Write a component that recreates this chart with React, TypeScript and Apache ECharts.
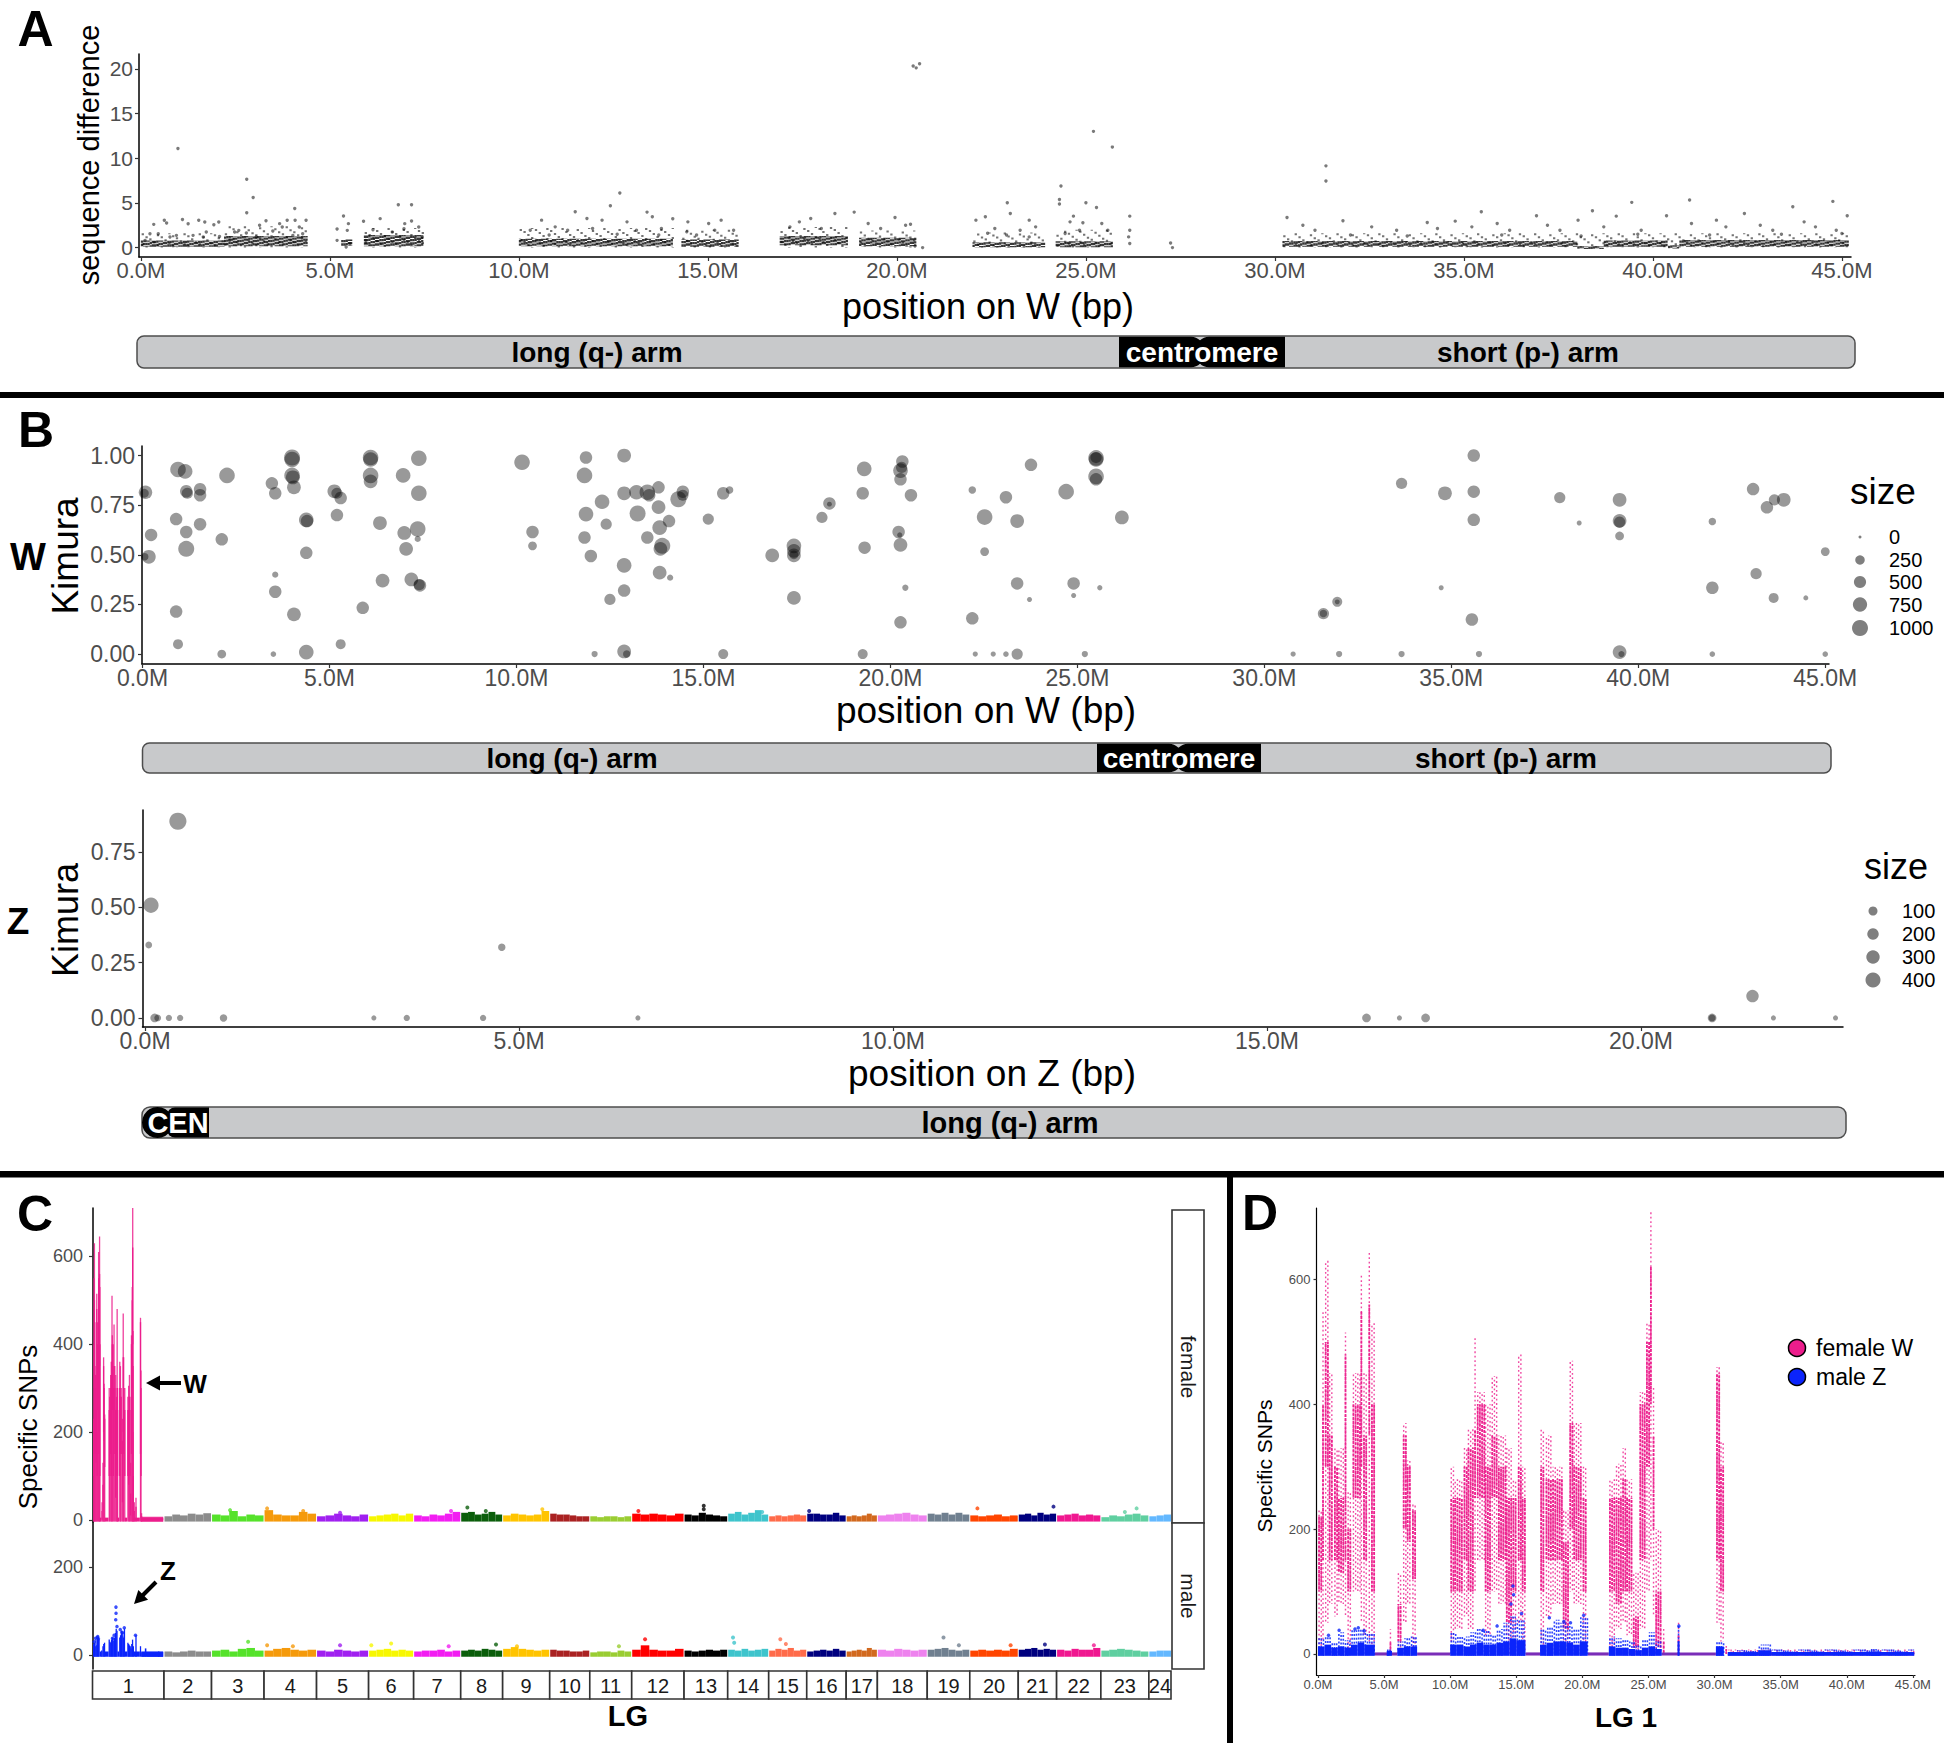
import React, { useEffect, useRef } from "react";
import * as echarts from "echarts";

const FONT = '"Liberation Sans", Arial, Helvetica, sans-serif';
const PINK = "#EC1D8C";
const BLUE = "#0B24FB";
const PURPLE = "#7A2DB8";

// ---------------- Panel A : sequence difference along W ----------------
const aTicksX = [0, 5, 10, 15, 20, 25, 30, 35, 40, 45];
const aTicksY = [0, 5, 10, 15, 20];
// dense core of the point cloud: [start Mb, end Mb, low, high]
const aCore = [
  [0.0, 2.2, 0.1, 0.8], [2.2, 4.4, 0.15, 1.3], [5.3, 5.6, 0.2, 0.9], [5.9, 7.5, 0.15, 1.4],
  [10.0, 14.1, 0.15, 1.0], [14.3, 15.8, 0.1, 0.9], [16.9, 18.7, 0.25, 1.3], [19.0, 20.5, 0.15, 1.1],
  [22.0, 23.9, 0.05, 0.6], [24.2, 25.7, 0.05, 0.7], [30.2, 38.0, 0.1, 0.75], [38.0, 38.7, -0.15, 0.15],
  [38.7, 40.4, 0.1, 0.8], [40.4, 40.7, -0.1, 0.25], [40.7, 45.2, 0.1, 0.85],
];
// sparse scatter around the core: [start Mb, end Mb, low, high]
const aHalo = [
  [0.0, 2.2, 0.0, 1.6], [2.2, 4.4, 0.0, 2.4], [5.9, 7.5, 0.0, 2.2], [10.0, 14.1, 0.0, 2.2],
  [14.3, 15.8, 0.0, 2.0], [16.9, 18.7, 0.0, 2.3], [19.0, 20.5, 0.0, 1.9], [22.0, 23.9, 0.0, 1.7],
  [24.2, 25.7, 0.0, 2.0], [30.2, 45.2, 0.0, 1.6],
];
const aPoints = [
  [0.98, 11.08], [2.8, 7.65], [2.97, 5.6], [2.8, 3.9], [4.07, 4.37], [6.81, 4.8], [7.16, 4.8], [5.36, 3.54],
  [0.34, 2.6], [0.62, 3.05], [0.68, 2.75], [1.1, 3.14], [1.25, 2.67], [1.53, 3.05], [1.69, 2.86], [1.93, 2.56],
  [2.06, 2.86], [2.48, 1.74], [2.59, 1.93], [2.79, 1.63], [3.31, 3.01], [3.49, 1.86], [3.67, 2.68], [3.74, 2.3],
  [3.87, 3.05], [4.08, 3.05], [4.37, 3.05], [4.19, 2.3], [3.14, 2.49], [5.19, 2.08], [5.19, 0.81], [5.49, 2.68],
  [5.46, 1.93], [5.53, 0.43], [5.43, 0.06], [5.89, 2.94], [6.33, 3.24], [6.14, 2.0], [6.98, 2.68], [7.16, 2.98],
  [7.35, 2.3], [6.96, 2.1], [0.11, 0.81], [0.24, 1.55], [0.46, 1.55], [0.77, 1.18], [0.94, 1.37], [1.38, 1.37],
  [1.73, 1.74], [1.65, 1.18], [2.08, 1.25], [2.35, 0.81], [3.05, 1.18], [4.02, 1.37], [4.28, 1.55], [5.95, 0.81],
  [6.65, 1.74], [7.44, 1.18],
  [12.67, 6.1], [12.42, 4.68], [11.49, 4.0], [13.39, 3.97], [14.07, 3.22], [10.6, 3.07], [11.8, 3.26], [12.2, 3.07],
  [12.86, 2.88], [13.53, 3.45], [14.47, 2.88], [15.02, 2.7], [15.35, 3.07], [15.68, 1.95], [10.3, 1.95], [10.96, 2.32],
  [11.29, 1.95], [11.95, 2.13], [13.11, 1.95], [13.77, 2.13], [14.44, 1.76], [15.18, 1.95], [10.8, 1.4], [12.6, 1.5],
  [13.7, 1.4], [14.7, 1.4],
  [18.36, 3.82], [18.87, 3.97], [19.95, 3.37], [17.72, 3.26], [17.42, 2.88], [17.17, 2.32], [18.0, 2.13], [19.24, 2.7],
  [19.57, 2.13], [20.23, 2.5], [20.36, 2.62], [20.68, 0], [20.48, 0.19], [20.43, 20.3], [20.6, 20.56], [20.51, 20.1],
  [22.92, 5.02], [23.0, 3.82], [22.34, 3.45], [22.09, 3.07], [23.5, 3.07], [22.59, 2.13], [23.26, 1.95], [23.67, 2.32],
  [22.4, 1.6], [22.9, 1.4], [23.5, 1.2],
  [25.2, 13.0], [25.7, 11.24], [24.34, 6.89], [24.3, 5.39], [24.3, 4.87], [25.0, 5.02], [25.28, 4.49], [24.67, 3.52],
  [24.58, 2.88], [24.92, 2.77], [25.42, 2.7], [24.83, 1.95], [25.58, 1.95], [24.45, 1.57],
  [26.16, 3.52], [26.16, 1.95], [26.13, 1.2], [26.16, 0.45], [27.24, 0.52], [27.29, 0],
  [31.35, 9.14], [31.35, 7.45], [30.32, 3.37], [31.8, 3.0], [35.46, 4.0], [39.44, 5.06], [40.97, 5.32], [44.76, 5.17],
  [43.7, 4.57], [42.42, 3.82], [38.4, 4.12], [36.92, 3.56], [39.03, 3.52], [40.36, 3.56], [45.14, 3.56], [38.02, 3.07],
  [34.03, 2.81], [34.77, 2.96], [30.74, 2.51], [31.06, 1.95], [32.56, 2.32], [33.22, 1.95], [34.3, 2.13], [35.21, 2.32],
  [35.88, 2.7], [36.21, 1.95], [37.21, 2.51], [37.54, 1.95], [38.7, 2.32], [39.69, 1.95], [41.02, 2.7], [41.68, 3.07],
  [41.93, 2.32], [42.84, 2.51], [43.17, 1.95], [44.0, 2.88], [44.3, 2.32], [44.85, 1.95], [45.0, 1.57], [32.0, 1.4],
  [33.5, 1.3], [36.0, 1.4], [38.1, 1.3], [39.6, 1.5], [41.5, 1.4], [43.4, 1.5],
];

// ---------------- Panel B : Kimura distances ----------------
const kTicksY = [0, 0.25, 0.5, 0.75, 1];
// [position Mb, Kimura, size]
const wKimura = [
  [0.08, 0.815, 650], [0.05, 0.81, 200], [0.23, 0.6, 534], [0.17, 0.49, 684], [0.06, 0.49, 120],
  [0.95, 0.93, 940], [1.14, 0.92, 800], [1.17, 0.82, 534], [1.2, 0.81, 400], [1.54, 0.83, 534],
  [1.54, 0.8, 534], [0.9, 0.68, 534], [1.17, 0.615, 534], [1.17, 0.53, 1000], [1.54, 0.654, 534],
  [2.26, 0.9, 940], [2.12, 0.578, 534], [0.9, 0.214, 534], [0.95, 0.05, 290], [2.12, 0.0, 196],
  [3.46, 0.86, 534], [3.55, 0.81, 534], [4.0, 0.99, 1000], [4.0, 0.98, 900], [4.0, 0.9, 940],
  [4.02, 0.89, 700], [4.05, 0.84, 684], [4.38, 0.676, 800], [4.4, 0.67, 534], [4.38, 0.51, 534],
  [3.55, 0.4, 62], [3.55, 0.314, 534], [4.05, 0.2, 684], [3.5, 0.0, 40], [4.38, 0.01, 800],
  [5.13, 0.82, 684], [5.2, 0.81, 400], [5.3, 0.786, 534], [5.2, 0.7, 534], [5.3, 0.05, 290],
  [5.89, 0.233, 534], [6.1, 0.99, 940], [6.1, 0.98, 800], [6.1, 0.9, 940], [6.1, 0.87, 684],
  [6.35, 0.66, 684], [6.42, 0.37, 684], [6.97, 0.9, 800], [7.39, 0.986, 940], [7.39, 0.81, 940],
  [7.36, 0.63, 940], [7.0, 0.61, 684], [7.05, 0.53, 684], [7.36, 0.58, 62], [7.19, 0.376, 684],
  [7.42, 0.346, 534], [7.4, 0.35, 400], [10.15, 0.966, 940], [10.43, 0.615, 534], [10.43, 0.545, 196],
  [11.86, 0.99, 534], [11.82, 0.9, 940], [11.86, 0.705, 800], [11.82, 0.587, 534], [11.99, 0.494, 534],
  [12.09, 0.0, 62], [12.88, 1.0, 684], [12.29, 0.767, 800], [12.4, 0.654, 400], [12.5, 0.275, 400],
  [12.88, 0.447, 800], [12.88, 0.32, 534], [12.88, 0.81, 684], [12.88, 0.013, 684], [12.95, 0.0, 120],
  [13.21, 0.815, 800], [13.24, 0.708, 1000], [13.5, 0.815, 940], [13.55, 0.8, 534], [13.5, 0.587, 534],
  [13.8, 0.84, 534], [13.8, 0.74, 684], [13.83, 0.637, 800], [13.9, 0.545, 1000], [13.85, 0.53, 684],
  [13.83, 0.41, 684], [14.08, 0.67, 534], [14.11, 0.385, 62], [14.33, 0.78, 1000], [14.45, 0.8, 400],
  [14.45, 0.818, 534], [15.13, 0.68, 400], [15.53, 0.81, 534], [15.7, 0.826, 120], [15.53, 0.0, 290],
  [16.84, 0.497, 684], [17.42, 0.545, 800], [17.42, 0.52, 684], [17.42, 0.5, 200], [17.42, 0.497, 684],
  [17.42, 0.283, 684], [18.17, 0.688, 400], [18.37, 0.759, 534], [18.37, 0.755, 20], [19.3, 0.933, 800],
  [19.26, 0.81, 534], [19.31, 0.536, 534], [19.26, 0.0, 290], [20.27, 0.924, 800], [20.3, 0.94, 400],
  [20.32, 0.97, 534], [20.27, 0.88, 534], [20.55, 0.8, 534], [20.22, 0.615, 534], [20.27, 0.55, 684],
  [20.25, 0.6, 30], [20.4, 0.334, 62], [20.27, 0.16, 534], [22.19, 0.826, 120], [22.19, 0.18, 534],
  [22.27, 0.0, 30], [22.52, 0.69, 940], [22.52, 0.516, 196], [22.75, 0.0, 30], [23.09, 0.0, 40],
  [23.39, 0.0, 400], [23.09, 0.79, 534], [23.39, 0.67, 684], [23.39, 0.356, 534], [23.72, 0.275, 24],
  [23.76, 0.953, 534], [24.7, 0.818, 940], [24.9, 0.356, 534], [24.9, 0.295, 24], [25.2, 0.0, 62],
  [25.5, 0.988, 940], [25.5, 0.98, 800], [25.5, 0.99, 400], [25.5, 0.895, 940], [25.5, 0.88, 534],
  [25.6, 0.334, 30], [26.19, 0.688, 684], [30.77, 0.0, 30], [31.58, 0.204, 400], [31.58, 0.204, 120],
  [31.95, 0.263, 290], [31.95, 0.263, 20], [32.0, 0.0, 62], [33.67, 0.86, 400], [33.67, 0.0, 62],
  [34.73, 0.334, 24], [34.83, 0.81, 684], [35.6, 1.0, 534], [35.6, 0.818, 534], [35.6, 0.676, 534],
  [35.55, 0.174, 534], [35.74, 0.0, 62], [37.9, 0.788, 400], [38.42, 0.66, 24], [39.5, 0.777, 684],
  [39.5, 0.671, 684], [39.5, 0.665, 400], [39.5, 0.595, 196], [39.5, 0.01, 684], [39.55, 0.0, 60],
  [41.98, 0.668, 120], [41.98, 0.334, 534], [41.98, 0.0, 40], [43.07, 0.831, 534], [43.44, 0.739, 534],
  [43.64, 0.777, 400], [43.89, 0.777, 684], [43.15, 0.405, 400], [43.62, 0.283, 290], [44.48, 0.283, 24],
  [45.0, 0.516, 196], [45.0, 0.0, 40],
];
const zTicksX = [0, 5, 10, 15, 20];
const zTicksY = [0, 0.25, 0.5, 0.75];
const zKimura = [
  [0.44, 0.89, 560], [0.08, 0.51, 420], [0.05, 0.33, 40], [0.13, 0.0, 90], [0.17, 0.0, 40],
  [0.32, 0.0, 30], [0.47, 0.0, 30], [1.05, 0.0, 55], [3.06, 0.0, 12], [3.5, 0.0, 30],
  [4.52, 0.0, 30], [4.77, 0.32, 55], [6.59, 0.0, 12], [16.33, 0.0, 90], [16.77, 0.0, 12],
  [17.12, 0.0, 90], [20.95, 0.0, 90], [20.95, 0.0, 40], [21.49, 0.099, 250], [21.77, 0.0, 12],
  [22.6, 0.0, 12],
];
const wLegend = [0, 250, 500, 750, 1000];
const zLegend = [100, 200, 300, 400];

// ---------------- Panel C : specific SNPs per linkage group ----------------
const lgNames = ["1", "2", "3", "4", "5", "6", "7", "8", "9", "10", "11", "12", "13", "14", "15", "16", "17", "18", "19", "20", "21", "22", "23", "24"];
const lgLengths = [45.3, 29.9, 33.1, 33.1, 32.8, 28.3, 29.6, 26.3, 29.6, 25.1, 26.3, 33.0, 27.4, 25.7, 23.8, 24.7, 19.4, 31.4, 26.7, 30.5, 24.0, 27.8, 30.2, 13.9];
const lgColors = [PINK, "#8C8C8C", "#55E22A", "#F59A0B", "#A020F0", "#F7F700", "#F21DF2", "#0B5E0B", "#FFC400", "#AA2222", "#9ACD32", "#FF0000", "#000000", "#3EC4CC", "#FF6B4A", "#00007F", "#D2691E", "#EE82EE", "#708090", "#FF4500", "#00007F", "#F01890", "#5FCFA0", "#63B8FF"];
const lgGap = 0.64;
const femaleBands = [
  [], [8, 12, 10, 14, 12, 15], [12, 10, 20, 8, 12, 10], [22, 12, 10, 10, 18, 14], [8, 10, 14, 10, 8, 12],
  [8, 10, 12, 14, 10, 14], [10, 8, 12, 10, 14, 18], [16, 18, 12, 14, 18, 12], [10, 14, 12, 10, 12, 20],
  [14, 12, 12, 10, 8, 8], [8, 6, 8, 8, 6, 8], [14, 12, 14, 12, 10, 14], [12, 10, 16, 12, 10, 8],
  [14, 18, 12, 16, 22, 12], [8, 10, 8, 10, 12, 10], [14, 14, 12, 12, 16, 10], [8, 10, 8, 10, 14, 10],
  [10, 12, 14, 16, 12, 10], [14, 12, 16, 12, 16, 12], [10, 8, 10, 12, 8, 10], [12, 14, 10, 16, 12, 14],
  [10, 12, 14, 10, 12, 10], [6, 10, 8, 12, 14, 10], [8, 10, 12],
];
const maleBands = [
  [], [8, 6, 8, 10, 8, 8], [10, 12, 8, 14, 16, 10], [10, 14, 16, 12, 10, 12], [10, 8, 12, 10, 8, 10],
  [10, 12, 14, 10, 12, 10], [8, 10, 10, 12, 8, 10], [10, 12, 10, 14, 12, 10], [14, 18, 14, 12, 10, 12],
  [12, 10, 10, 8, 8, 10], [6, 8, 8, 6, 10, 8], [12, 22, 12, 10, 10, 14], [10, 8, 10, 12, 10, 12],
  [12, 10, 14, 10, 12, 14], [10, 14, 12, 16, 10, 12], [8, 10, 12, 10, 14, 10], [8, 10, 12, 10, 16, 12],
  [12, 10, 14, 12, 10, 12], [12, 14, 16, 12, 10, 12], [10, 12, 10, 12, 10, 14], [12, 14, 16, 12, 14, 12],
  [12, 10, 14, 12, 12, 16], [10, 12, 14, 12, 10, 8], [8, 10, 10],
];
// [LG, relative position in LG, SNPs]
const femaleSpikes = [
  [3, 0.35, 22], [4, 0.05, 26], [4, 0.75, 20], [5, 0.45, 16], [7, 0.8, 20], [8, 0.15, 28], [8, 0.6, 20],
  [9, 0.85, 24], [12, 0.12, 20], [13, 0.45, 32], [13, 0.45, 24], [14, 0.85, 18], [16, 0.05, 20],
  [20, 0.15, 26], [21, 0.93, 30], [23, 0.75, 26], [23, 0.5, 18],
];
const maleSpikes = [
  [3, 0.7, 30], [4, 0.05, 22], [4, 0.55, 20], [5, 0.45, 22], [6, 0.05, 22], [6, 0.5, 26], [7, 0.75, 20],
  [8, 0.85, 24], [9, 0.3, 20], [11, 0.7, 20], [12, 0.25, 36], [14, 0.12, 40], [14, 0.15, 28], [15, 0.3, 36],
  [15, 0.45, 25], [19, 0.38, 40], [19, 0.75, 22], [20, 0.85, 22], [21, 0.7, 24], [22, 0.85, 22],
];
const cTicksFemale = [0, 200, 400, 600];
const cTicksMale = [0, 200];

// ---------------- Panel D : LG 1 ----------------
const dTicksY = [0, 200, 400, 600];
// female W clouds: [start Mb, end Mb, low, high, dense low, dense high]
const femaleW = [
  [0.0, 0.3, 0, 230, 100, 220], [0.3, 0.5, 20, 550, 150, 400], [0.5, 0.8, 50, 630, 300, 500],
  [0.8, 1.2, 80, 450, 150, 350], [1.2, 1.5, 60, 330, 150, 300], [1.5, 2.0, 80, 330, 130, 250],
  [2.0, 2.2, 60, 515, 150, 480], [2.2, 2.6, 0, 260, 100, 200], [2.6, 3.2, 100, 450, 250, 400],
  [3.2, 3.4, 50, 610, 300, 550], [3.4, 3.8, 30, 450, 150, 350], [3.8, 4.0, 20, 645, 350, 560],
  [4.0, 4.3, 0, 530, 100, 400], [5.4, 5.6, 0, 40, 0, 20], [6.0, 6.4, 0, 130, 20, 80],
  [6.4, 6.7, 50, 370, 200, 350], [6.7, 7.1, 80, 310, 180, 300], [7.1, 7.5, 0, 240, 120, 230],
  [10.0, 10.3, 20, 300, 100, 250], [10.3, 11.0, 40, 280, 100, 250], [11.0, 11.3, 60, 330, 150, 300],
  [11.3, 11.8, 40, 360, 100, 330], [11.8, 12.0, 100, 510, 250, 360], [12.0, 12.6, 150, 420, 250, 400],
  [12.6, 13.1, 30, 400, 100, 300], [13.1, 13.6, 100, 445, 250, 350], [13.6, 14.2, 80, 350, 150, 300],
  [14.2, 14.7, 0, 330, 50, 250], [14.7, 15.1, 0, 280, 100, 250], [15.1, 15.4, 50, 480, 150, 300],
  [15.4, 15.7, 0, 300, 100, 250], [16.8, 17.2, 0, 360, 100, 300], [17.2, 17.7, 60, 350, 150, 280],
  [17.7, 18.5, 80, 300, 150, 280], [18.5, 19.0, 0, 230, 40, 180], [19.0, 19.3, 100, 470, 200, 370],
  [19.3, 20.0, 80, 370, 150, 300], [20.0, 20.4, 0, 300, 100, 250], [22.0, 22.5, 0, 280, 100, 250],
  [22.5, 23.0, 40, 305, 80, 250], [23.0, 23.3, 50, 330, 100, 280], [23.3, 23.8, 30, 280, 100, 250],
  [23.8, 24.3, 0, 130, 10, 60], [24.3, 24.8, 40, 420, 150, 400], [24.8, 25.1, 100, 530, 300, 500],
  [25.1, 25.3, 150, 710, 400, 620], [25.3, 25.5, 60, 430, 200, 350], [25.5, 26.0, 0, 200, 10, 100],
  [26.1, 26.2, 0, 40, 0, 20], [27.2, 27.35, 0, 50, 0, 30], [30.1, 30.4, 50, 460, 150, 450],
  [30.4, 30.8, 20, 340, 100, 300], [30.8, 31.0, 0, 15, 0, 8], [31.0, 45.1, 0, 7, 0, 3],
];
// male Z clouds: [start Mb, end Mb, high, dense high]
const maleZ = [
  [0.0, 0.5, 25, 12], [0.5, 1.0, 28, 15], [1.0, 1.5, 20, 10], [1.5, 2.0, 35, 12], [2.0, 2.5, 22, 10],
  [2.5, 3.0, 38, 15], [3.0, 3.5, 40, 18], [3.5, 4.3, 35, 15], [5.2, 5.6, 10, 5], [6.0, 6.5, 20, 10],
  [6.5, 7.0, 25, 12], [7.0, 7.5, 28, 12], [10.0, 10.5, 35, 15], [10.5, 11.0, 30, 15], [11.0, 11.5, 28, 12],
  [11.5, 12.0, 35, 15], [12.0, 12.5, 40, 18], [12.5, 13.0, 38, 15], [13.0, 13.5, 32, 15], [13.5, 14.0, 40, 18],
  [14.0, 14.5, 50, 20], [14.5, 15.0, 60, 25], [15.0, 15.7, 55, 22], [16.8, 17.3, 40, 15], [17.3, 17.8, 45, 18],
  [17.8, 18.3, 55, 20], [18.3, 18.8, 50, 20], [18.8, 19.3, 45, 18], [19.3, 19.8, 40, 15], [19.8, 20.4, 60, 20],
  [22.0, 22.5, 28, 12], [22.5, 23.0, 25, 10], [23.0, 23.5, 22, 10], [23.5, 24.0, 20, 8], [24.0, 24.5, 15, 6],
  [24.5, 25.0, 25, 10], [25.0, 25.5, 35, 12], [25.5, 26.0, 20, 8], [27.2, 27.35, 45, 20], [30.1, 30.7, 20, 12],
  [31.0, 33.3, 6, 3], [33.3, 34.3, 15, 6], [34.3, 45.1, 7, 3], [41.8, 42.5, 8, 4],
];
const maleZDots = [
  [14.75, 109], [14.8, 95], [14.6, 80], [15.4, 65], [17.5, 58], [20.1, 62], [2.8, 40], [3.05, 42],
  [3.5, 37], [1.6, 38], [0.8, 30], [12.5, 38], [13.55, 45], [18.6, 52], [27.3, 45], [19.1, 50],
];
const zeroRuns = [[4.3, 5.4], [5.6, 6.0], [7.5, 10.0], [15.7, 16.8], [20.4, 22.0], [26.0, 30.1], [31.0, 45.1]];

// ---------------- helpers ----------------
const mFmt = (v: number) => v.toFixed(1) + "M";
const kFmt = (v: number) => v.toFixed(2);
const iFmt = (v: number) => String(Math.round(v));
const wSizePx = (v: number) => 3 + 13 * Math.sqrt(Math.max(v, 0) / 1000);
const zSizePx = (v: number) => 3 + 12 * Math.sqrt(Math.max(v, 0) / 400);

const lgStart: number[] = [];
let accLen = 0;
for (let i = 0; i < lgLengths.length; i++) {
  lgStart.push(accLen);
  accLen += lgLengths[i] + lgGap;
}
const cTotal = accLen - lgGap;

function axis(gridIndex: number, min: number, max: number, ticks: number[] | null, fmt: any, o: any) {
  if (!ticks) return { type: "value", gridIndex, min, max, show: false };
  return {
    type: "value", gridIndex, min, max,
    axisLine: { show: true, onZero: false, lineStyle: { color: "#000", width: o.lw || 1.5 } },
    axisTick: { show: true, customValues: ticks, length: o.tl || 4, lineStyle: { color: "#333", width: 1.2 } },
    axisLabel: { show: true, customValues: ticks, formatter: fmt, color: "#4d4d4d", fontSize: o.fs, fontFamily: FONT, margin: o.margin },
    splitLine: { show: false },
  };
}

// filled range [start,end] x [lo,hi]; optionally drawn as a texture of dashed vertical strokes
function rectRender(color: string, lo: any, hi: any, step = 0, lw = 1, dash: number[] | null = null, minW = 0.7) {
  return (params: any, api: any) => {
    const s = api.value(0), e = api.value(1);
    const vLo = typeof lo === "number" ? api.value(lo) : lo.c;
    const vHi = typeof hi === "number" ? api.value(hi) : hi.c;
    const a = api.coord([s, vHi]);
    const b = api.coord([e, vLo]);
    const x0 = a[0], x1 = b[0], yt = a[1];
    const w = x1 - x0, h = Math.max(b[1] - yt, 0.8);
    if (!step || w < step * 1.2) {
      if (dash && step) {
        return { type: "line", shape: { x1: x0 + w / 2, y1: yt, x2: x0 + w / 2, y2: yt + h }, style: { stroke: color, lineWidth: lw, lineDash: dash } };
      }
      return { type: "rect", shape: { x: x0, y: yt, width: Math.max(w, minW), height: h }, style: { fill: color } };
    }
    const children: any[] = [];
    let k = 0;
    const period = dash ? dash[0] + dash[1] : 1;
    for (let x = x0 + step / 2; x < x1; x += step, k++) {
      const st: any = { stroke: color, lineWidth: lw };
      if (dash) {
        st.lineDash = dash;
        st.lineDashOffset = ((k * 7.3 + params.dataIndex * 3.1) % period);
      }
      children.push({ type: "line", shape: { x1: x, y1: yt, x2: x, y2: yt + h }, style: st });
    }
    return { type: "group", children };
  };
}

function bandRender(params: any, api: any) {
  const a = api.coord([api.value(0), api.value(3)]);
  const b = api.coord([api.value(1), api.value(2)]);
  return { type: "rect", shape: { x: a[0], y: a[1], width: Math.max(b[0] - a[0], 0.7), height: Math.max(b[1] - a[1], 1) }, style: { fill: lgColors[api.value(4)] } };
}

function bandData(bands: number[][]) {
  const out: number[][] = [];
  bands.forEach((hs, i) => {
    const n = hs.length;
    if (!n) return;
    const st = lgLengths[i] / n;
    hs.forEach((h, j) => out.push([lgStart[i] + j * st, lgStart[i] + (j + 1) * st, -4, h, i]));
  });
  return out;
}

function spikeData(sp: number[][]) {
  return sp.map(([lg, rel, v]) => ({ value: [lgStart[lg - 1] + rel * lgLengths[lg - 1], v], itemStyle: { color: lgColors[lg - 1] } }));
}

function custom(xi: number, data: any[], renderItem: any) {
  return { type: "custom", coordinateSystem: "cartesian2d", xAxisIndex: xi, yAxisIndex: xi, data, renderItem, silent: true, clip: true };
}

function buildOption() {
  return {
    animation: false,
    backgroundColor: "#ffffff",
    grid: [
      { left: 139, top: 54, width: 1712, height: 203 },
      { left: 142, top: 446, width: 1687, height: 218 },
      { left: 142.5, top: 810, width: 1700.5, height: 217 },
      { left: 93, top: 1208, width: 1078, height: 314 },
      { left: 93, top: 1522, width: 1078, height: 147 },
      { left: 1316.5, top: 1208, width: 598.5, height: 467 },
    ],
    xAxis: [
      axis(0, -0.05, 45.24, aTicksX, mFmt, { fs: 22, margin: 2 }),
      axis(1, -0.013, 45.1, aTicksX, mFmt, { fs: 23, margin: 2 }),
      axis(2, -0.033, 22.7, zTicksX, mFmt, { fs: 23, margin: 2 }),
      axis(3, 0, cTotal, null, null, {}),
      axis(4, 0, cTotal, null, null, {}),
      axis(5, -0.11, 45.16, aTicksX, mFmt, { fs: 13, margin: 3, tl: 3, lw: 1.2 }),
    ],
    yAxis: [
      axis(0, -1.05, 21.65, aTicksY, iFmt, { fs: 21, margin: 6 }),
      axis(1, -0.05, 1.048, kTicksY, kFmt, { fs: 23, margin: 7 }),
      axis(2, -0.041, 0.941, zTicksY, kFmt, { fs: 23, margin: 7 }),
      axis(3, -5, 710, cTicksFemale, iFmt, { fs: 18, margin: 10, lw: 1.5 }),
      axis(4, -31.9, 302.8, cTicksMale, iFmt, { fs: 18, margin: 10, lw: 1.5 }),
      axis(5, -33.7, 714.7, dTicksY, iFmt, { fs: 13, margin: 6, tl: 3, lw: 1.2 }),
    ],
    series: [
      // A
      custom(0, aHalo, rectRender("rgba(0,0,0,0.55)", 2, 3, 3.8, 2.3, [2, 8])),
      custom(0, aCore, rectRender("rgba(0,0,0,0.78)", 2, 3, 2.2, 2.3, [2.4, 1.0])),
      { type: "scatter", xAxisIndex: 0, yAxisIndex: 0, data: aPoints, symbolSize: 3.4, itemStyle: { color: "rgba(0,0,0,0.65)" }, silent: true },
      // B - W
      { type: "scatter", xAxisIndex: 1, yAxisIndex: 1, data: wKimura, symbolSize: (v: number[]) => wSizePx(v[2]), itemStyle: { color: "rgba(0,0,0,0.5)" }, silent: true },
      // B - Z
      { type: "scatter", xAxisIndex: 2, yAxisIndex: 2, data: zKimura, symbolSize: (v: number[]) => zSizePx(v[2]), itemStyle: { color: "rgba(0,0,0,0.5)" }, silent: true },
      // C - female
      custom(3, zeroRuns, rectRender(PINK, { c: -4 }, { c: 5 })),
      custom(3, femaleW, rectRender("rgba(236,29,140,0.85)", { c: -4 }, 3, 0, 1, null, 1.3)),
      custom(3, femaleW, rectRender(PINK, 4, 5, 0, 1, null, 1.3)),
      custom(3, bandData(femaleBands), bandRender),
      { type: "scatter", xAxisIndex: 3, yAxisIndex: 3, data: spikeData(femaleSpikes), symbolSize: 4, silent: true },
      // C - male
      custom(4, zeroRuns, rectRender(BLUE, { c: -4 }, { c: 8 })),
      custom(4, maleZ, rectRender(BLUE, { c: -4 }, 2, 0, 1, null, 1.3)),
      { type: "scatter", xAxisIndex: 4, yAxisIndex: 4, data: maleZDots, symbolSize: 3.5, itemStyle: { color: BLUE }, silent: true },
      custom(4, bandData(maleBands), bandRender),
      { type: "scatter", xAxisIndex: 4, yAxisIndex: 4, data: spikeData(maleSpikes), symbolSize: 4, silent: true },
      // D
      custom(5, femaleW, rectRender("rgba(236,29,140,0.8)", 2, 3, 2.2, 1.4, [1.8, 2.6])),
      custom(5, femaleW, rectRender("rgba(236,29,140,0.95)", 4, 5, 2.2, 1.8, [3, 1.1])),
      custom(5, zeroRuns, rectRender(PURPLE, { c: -2.5 }, { c: 2.5 })),
      custom(5, maleZ, rectRender("rgba(11,36,251,0.85)", { c: -3 }, 2, 2.2, 1.6, [2, 1.8])),
      custom(5, maleZ, rectRender(BLUE, { c: -3 }, 3)),
      { type: "scatter", xAxisIndex: 5, yAxisIndex: 5, data: maleZDots, symbolSize: 3.5, itemStyle: { color: BLUE }, silent: true },
    ],
  };
}

function T(x: number, y: number, text: string, size: number, o: any = {}) {
  const align = o.align || "center";
  const va = o.va || "middle";
  return {
    type: "text", x, y, rotation: o.rot || 0, silent: true, z: 100,
    style: { text, font: `${o.bold ? "bold " : ""}${size}px ${FONT}`, fill: o.fill || "#000", align, verticalAlign: va, textAlign: align, textVerticalAlign: va },
  };
}
const R = (x: number, y: number, w: number, h: number, fill: string, o: any = {}) => ({
  type: "rect", silent: true, z: o.z || 50, shape: { x, y, width: w, height: h, r: o.r || 0 },
  style: { fill, stroke: o.stroke || null, lineWidth: o.lw || 0 },
});

function buildGraphics(chart: any) {
  const g: any[] = [];
  // separators
  g.push(R(0, 392, 1944, 6, "#000"));
  g.push(R(0, 1171, 1944, 6.5, "#000"));
  g.push(R(1227, 1174, 6, 569, "#000"));
  // panel letters
  g.push(T(35.5, 29, "A", 50, { bold: true }));
  g.push(T(36, 430, "B", 50, { bold: true }));
  g.push(T(35, 1214, "C", 50, { bold: true }));
  g.push(T(1260, 1213, "D", 50, { bold: true }));
  // Panel A titles
  g.push(T(89, 155, "sequence difference", 29, { rot: Math.PI / 2 }));
  g.push(T(988, 306, "position on W (bp)", 36));
  // chromosome bar A
  g.push(R(137, 336, 1718, 32, "#C8C9CB", { r: 7, stroke: "#4D4D4D", lw: 1.5 }));
  g.push(R(1119, 336.8, 85, 30.4, "#000", { r: [0, 13, 13, 0], z: 51 }));
  g.push(R(1196, 336.8, 89, 30.4, "#000", { r: [13, 0, 0, 13], z: 51 }));
  g.push(T(597, 352, "long (q-) arm", 28, { bold: true }));
  g.push(T(1202, 352, "centromere", 28, { bold: true, fill: "#fff" }));
  g.push(T(1528, 352, "short (p-) arm", 28, { bold: true }));
  // Panel B - W
  g.push(T(28, 557, "W", 38, { bold: true }));
  g.push(T(65, 556, "Kimura", 37, { rot: Math.PI / 2 }));
  g.push(T(986, 710, "position on W (bp)", 37));
  g.push(T(1850, 491, "size", 37, { align: "left" }));
  const wLegY = [537, 560, 582, 604.5, 628];
  wLegend.forEach((v, i) => {
    g.push({ type: "circle", silent: true, z: 60, shape: { cx: 1860, cy: wLegY[i], r: wSizePx(v) / 2 }, style: { fill: "rgba(0,0,0,0.5)" } });
    g.push(T(1889, wLegY[i], String(v), 20, { align: "left" }));
  });
  g.push(R(142.5, 743, 1688.5, 30, "#C8C9CB", { r: 7, stroke: "#4D4D4D", lw: 1.5 }));
  g.push(R(1097, 743.8, 85, 28.4, "#000", { r: [0, 13, 13, 0], z: 51 }));
  g.push(R(1175, 743.8, 86, 28.4, "#000", { r: [13, 0, 0, 13], z: 51 }));
  g.push(T(572, 758, "long (q-) arm", 28, { bold: true }));
  g.push(T(1179, 758, "centromere", 28, { bold: true, fill: "#fff" }));
  g.push(T(1506, 758, "short (p-) arm", 28, { bold: true }));
  // Panel B - Z
  g.push(T(18, 921, "Z", 37, { bold: true }));
  g.push(T(65, 920, "Kimura", 36, { rot: Math.PI / 2 }));
  g.push(T(992, 1073, "position on Z (bp)", 37));
  g.push(T(1864, 866, "size", 36, { align: "left" }));
  const zLegY = [911, 934, 957, 980];
  zLegend.forEach((v, i) => {
    g.push({ type: "circle", silent: true, z: 60, shape: { cx: 1873, cy: zLegY[i], r: zSizePx(v) / 2 }, style: { fill: "rgba(0,0,0,0.5)" } });
    g.push(T(1902, zLegY[i], String(v), 20, { align: "left" }));
  });
  g.push(R(142, 1107, 1704, 31, "#C8C9CB", { r: 8, stroke: "#4D4D4D", lw: 1.5 }));
  g.push({ type: "circle", silent: true, z: 51, shape: { cx: 157.5, cy: 1122.5, r: 15.5 }, style: { fill: "#000" } });
  g.push(R(167, 1107.5, 42, 30, "#000", { r: [8, 0, 0, 8], z: 51 }));
  g.push(T(178, 1123, "CEN", 29, { bold: true, fill: "#fff" }));
  g.push(T(1010, 1123, "long (q-) arm", 29, { bold: true }));
  // Panel C
  g.push(T(27.5, 1427, "Specific SNPs", 26, { rot: Math.PI / 2 }));
  g.push(T(628, 1716, "LG", 29, { bold: true }));
  const px = (v: number) => chart.convertToPixel({ xAxisIndex: 3 }, v);
  const gapPx = px(lgGap) - px(0);
  lgNames.forEach((name, i) => {
    const x0 = px(lgStart[i]) - gapPx / 2;
    const x1 = Math.min(px(lgStart[i] + lgLengths[i]) + gapPx / 2, 1171);
    g.push(R(x0, 1671, x1 - x0, 28, "#fff", { stroke: "#333", lw: 1.6 }));
    g.push(T((x0 + x1) / 2, 1686, name, 20, { fill: "#1a1a1a" }));
  });
  g.push(R(1172, 1210, 32, 313, "#fff", { stroke: "#333", lw: 1.6 }));
  g.push(R(1172, 1523, 32, 146, "#fff", { stroke: "#333", lw: 1.6 }));
  g.push(T(1188, 1367, "female", 21, { rot: -Math.PI / 2, fill: "#1a1a1a" }));
  g.push(T(1188, 1596, "male", 21, { rot: -Math.PI / 2, fill: "#1a1a1a" }));
  // arrows
  g.push({ type: "line", silent: true, z: 60, shape: { x1: 157, y1: 1383, x2: 181, y2: 1383 }, style: { stroke: "#000", lineWidth: 4 } });
  g.push({ type: "polygon", silent: true, z: 60, shape: { points: [[146, 1383], [160, 1375.5], [160, 1390.5]] }, style: { fill: "#000" } });
  g.push(T(195, 1384, "W", 25, { bold: true }));
  g.push({ type: "line", silent: true, z: 60, shape: { x1: 156, y1: 1582, x2: 142, y2: 1596 }, style: { stroke: "#000", lineWidth: 4 } });
  g.push({ type: "polygon", silent: true, z: 60, shape: { points: [[134, 1604], [148.1, 1599.7], [138.3, 1589.9]] }, style: { fill: "#000" } });
  g.push(T(168, 1571, "Z", 26, { bold: true }));
  // Panel D
  g.push(T(1264, 1466, "Specific SNPs", 21, { rot: Math.PI / 2 }));
  g.push(T(1626, 1717, "LG 1", 28, { bold: true }));
  g.push({ type: "circle", silent: true, z: 60, shape: { cx: 1797, cy: 1348, r: 8.5 }, style: { fill: PINK, stroke: "#000", lineWidth: 1.5 } });
  g.push({ type: "circle", silent: true, z: 60, shape: { cx: 1797, cy: 1377, r: 8.5 }, style: { fill: BLUE, stroke: "#000", lineWidth: 1.5 } });
  g.push(T(1816, 1348, "female W", 23, { align: "left" }));
  g.push(T(1816, 1377, "male Z", 23, { align: "left" }));
  return g;
}

export default function App() {
  const ref = useRef<HTMLDivElement>(null);
  useEffect(() => {
    if (!ref.current) return;
    const chart = echarts.init(ref.current, null, { renderer: "svg", width: 1944, height: 1743 });
    chart.setOption(buildOption() as any);
    chart.setOption({ graphic: { elements: buildGraphics(chart) } } as any);
    return () => chart.dispose();
  }, []);
  return <div ref={ref} style={{ position: "absolute", left: 0, top: 0, width: 1944, height: 1743, background: "#fff" }} />;
}
